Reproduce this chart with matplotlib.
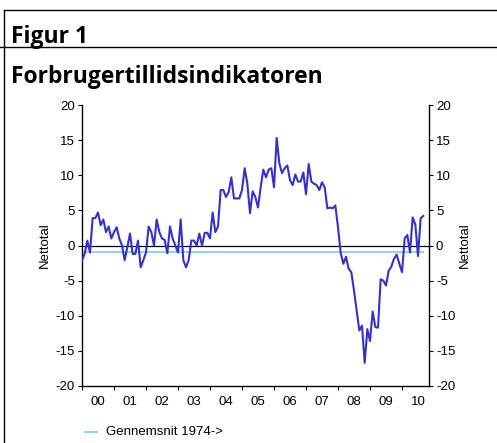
import numpy as np
import matplotlib.pyplot as plt
from matplotlib.lines import Line2D

plt.rcParams['axes.unicode_minus'] = False

# Monthly net balance, Jan 2000 - Sep 2010
v2000 = [-2.1, -1.2, 0.7, -1.0, 3.9, 3.9, 4.7, 2.9, 3.7, 1.9, 2.7, 1.0]
v2001 = [1.9, 2.6, 1.0, 0.0, -2.1, -0.2, 1.7, -1.2, -1.2, 0.7, -3.1, -2.1]
v2002 = [-1.0, 2.7, 1.9, 0.0, 3.7, 1.9, 1.0, 0.8, -1.1, 2.7, 1.0, 0.0]
v2003 = [-1.0, 3.7, -2.1, -3.1, -2.1, 0.7, 0.7, 0.0, 1.7, 0.0, 1.8, 1.8]
v2004 = [1.0, 4.7, 1.9, 2.7, 7.9, 7.9, 6.9, 7.6, 9.7, 6.7, 6.7, 6.7]
v2005 = [7.9, 11.0, 8.8, 4.6, 7.7, 6.9, 5.4, 8.3, 10.8, 9.7, 10.8, 11.0]
v2006 = [8.3, 15.3, 11.7, 10.3, 11.0, 11.4, 9.3, 8.6, 10.1, 9.1, 9.1, 10.4]
v2007 = [7.3, 11.6, 9.1, 8.8, 8.6, 7.9, 9.0, 8.3, 5.3, 5.4, 5.3, 5.7]
v2008 = [2.6, -1.0, -2.6, -1.6, -3.3, -3.8, -6.4, -9.3, -12.1, -11.4, -16.7, -11.9]
v2009 = [-13.6, -9.4, -11.6, -11.7, -4.8, -5.0, -5.7, -3.6, -3.0, -1.9, -1.3, -2.6]
v2010 = [-3.8, 1.0, 1.5, -1.0, 4.0, 3.0, -1.5, 3.9, 4.2]

values = np.array(v2000 + v2001 + v2002 + v2003 + v2004 + v2005 +
                  v2006 + v2007 + v2008 + v2009 + v2010)
months = 2000 + np.arange(len(values)) / 12.0
avg_1974 = -0.9

years = list(range(2000, 2011))
year_labels = ['00', '01', '02', '03', '04', '05', '06', '07', '08', '09', '10']
yticks = [-20, -15, -10, -5, 0, 5, 10, 15, 20]

W, H = 497, 443
fig = plt.figure(figsize=(W / 100, H / 100), dpi=100)

# frame lines around the figure box
fig.add_artist(Line2D([4 / W, 1], [1 - 10 / H, 1 - 10 / H], color='black', lw=1))
fig.add_artist(Line2D([0, 1], [1 - 47 / H, 1 - 47 / H], color='black', lw=1))
fig.add_artist(Line2D([4 / W, 4 / W], [0, 1 - 10 / H], color='black', lw=1))

fig.text(11 / W, 1 - 37 / H, 'Figur 1', fontsize=16.5, fontweight='bold',
         family='Open Sans', va='center', ha='left')
fig.text(11 / W, 1 - 77 / H, 'Forbrugertillidsindikatoren', fontsize=16.5,
         fontweight='bold', family='Open Sans', va='center', ha='left')

ax = fig.add_axes([82 / W, 57 / H, (429 - 82) / W, (386 - 105) / H])
ax.plot(months, values, color='#3333cc', lw=1.5, zorder=3)
ax.axhline(0, color='black', lw=0.9, zorder=2)
ax.plot([months[0], months[-1]], [avg_1974, avg_1974], color='#99ccff', lw=1.5, zorder=2)

ax.set_xlim(2000, 2000 + (429 - 82) / 32)
ax.set_ylim(-20, 20)
ax.spines['top'].set_visible(False)
for s in ['left', 'right', 'bottom']:
    ax.spines[s].set_linewidth(1)

ax.set_yticks(yticks)
ax.tick_params(axis='y', which='both', direction='out', length=3, labelsize=9.5,
               left=True, right=True, labelleft=True, labelright=True, pad=2)
for lab in ax.get_yticklabels():
    lab.set_family('Liberation Sans')

ax.set_xticks(years)
ax.set_xticklabels([])
ax.set_xticks([y + 0.5 for y in years], minor=True)
ax.set_xticklabels(year_labels, minor=True, fontsize=9.5, family='Liberation Sans')
ax.tick_params(axis='x', which='major', direction='out', length=3)
ax.tick_params(axis='x', which='minor', length=0, pad=7)

fig.text(45 / W, 1 - 245 / H, 'Nettotal', rotation=90, fontsize=9.5,
         family='Liberation Sans', va='center', ha='center')
fig.text(465 / W, 1 - 245 / H, 'Nettotal', rotation=90, fontsize=9.5,
         family='Liberation Sans', va='center', ha='center')

# legend entry
fig.add_artist(Line2D([85 / W, 97 / W], [1 - 432 / H, 1 - 432 / H], color='#99ccff', lw=1.5))
fig.text(106 / W, 1 - 432 / H, 'Gennemsnit 1974->', fontsize=9.5,
         family='Liberation Sans', va='center', ha='left')

fig.savefig('out.png', dpi=100)
